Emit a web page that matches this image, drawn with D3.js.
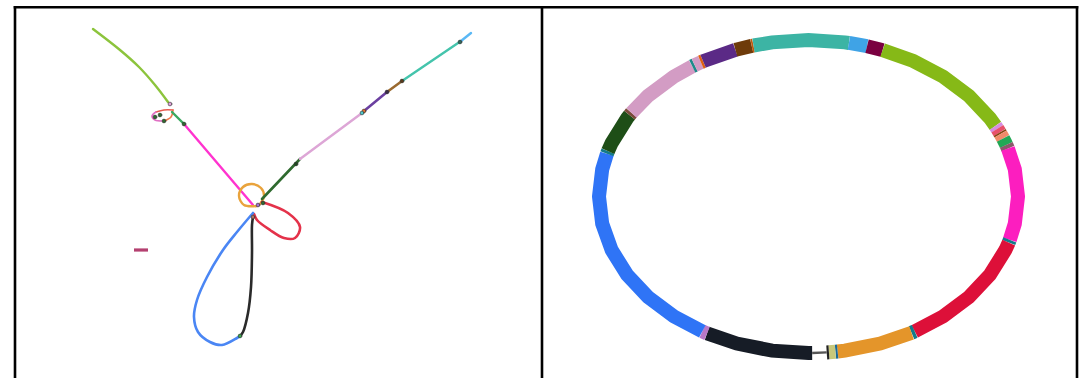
<!DOCTYPE html>
<html>
<head>
<meta charset="utf-8">
<script src="https://cdn.jsdelivr.net/npm/d3@7"></script>
<style>
  html, body { margin: 0; padding: 0; background: #fff; }
  svg { display: block; }
</style>
</head>
<body>
<svg id="chart" width="1091" height="378"></svg>
<script>
// ---- Left panel: assembly graph layout (layout units, relative to panel origin) ----
const graphEdgeIds    = ["e1", "e2a", "e2b", "e2c", "e3", "e4", "e5", "e6", "e7", "e8", "e9", "e10", "e11", "e12", "e13", "e14", "e15"];
const graphEdgeColors = ["#8cc43c", "#e85a50", "#e070c4", "#f0784c", "#3aa860", "#ff33cf", "#e9a33c", "#2f6a2f", "#dda6d6", "#6b3fa0", "#9a6a30", "#44c4ac", "#5ab8f5", "#e4324a", "#4a86f4", "#2a2a2a", "#b44070"];
const graphEdgePoints = [
  [[79,22],[106,43],[125,60],[141,78],[154,95]],
  [[159,103],[150,103],[142,105]],
  [[142,105],[138,109],[141,113],[150,114]],
  [[150,114],[157,110],[159,103]],
  [[158,105],[170,117]],
  [[170,117],[239,198]],
  [[243,199],[230,198],[225,189],[229,180],[238,177],[247,181],[250,189],[246,197],[243,199]],
  [[248,192],[286,152]],
  [[286,152],[348,106]],
  [[350,104],[373,85]],
  [[373,85],[388,74]],
  [[388,74],[447,34]],
  [[447,34],[457,26]],
  [[248,195],[274,206],[286,220],[281,231],[270,231],[256,223],[243,213],[240,207]],
  [[239,206],[223,225],[209,243],[193,270],[183,293],[180,310],[184,325],[196,335],[208,338],[223,331],[226,329]],
  [[226,329],[229,325],[234,306],[237,280],[238,246],[238,218],[239,210]],
  [[120,243],[134,243]]
];
const graphEdgeWidths = [2.4, 1.6, 1.6, 1.6, 2.4, 2.4, 2.4, 2.6, 2.4, 2.6, 2.6, 2.4, 2.4, 2.6, 2.6, 2.6, 3.2];

// graph nodes drawn as small dots
const graphNodePoints = [[170,117],[282,157],[350,104],[373,85],[388,74],[446,35],[226,329],[239,210],[244,198],[249,196],[156,97],[146,108],[141,110],[150,114],[348,106]];
const graphNodeColors = ["#2f6a2f", "#1f4a1f", "#e0702c", "#3a2a4a", "#5a3a1a", "#2f6a5a", "#3aa850", "#b07060", "#a070d0", "#2f6a2f", "#e0a0d8", "#2f6a2f", "#2f6a2f", "#2f6a2f", "#50c8c8"];

// ---- Right panel: circular assembly, segment lengths (kb) and colours ----
const ringSegments = ["black", "lilac", "blue", "teal1", "darkgreen", "brownstripe", "pink", "teal2", "pink2", "orange1", "purple", "brown", "rust", "teal", "lightblue", "maroon", "yellowgreen", "lilac2", "pinkred", "brown2", "salmon", "green", "mauve", "magenta", "teal3", "red", "teal4", "orange", "bluestripe", "khaki", "blackstripe", "link"];
const ringLengths  = [30, 1.5, 75.5, 1, 14.5, 1, 24, 0.8, 2, 0.7, 9.8, 4.7, 0.5, 26.4, 5.1, 4.5, 42.5, 1.2, 1.5, 0.6, 1.8, 2.5, 1.4, 34, 1, 42.5, 1, 21.5, 0.6, 1.8, 0.6, 4];
const ringColors   = ["#161c26", "#b878c8", "#2f74f6", "#137a8a", "#1e4e17", "#7a4a3a", "#d39cc4", "#1e8a8a", "#d39cc4", "#e06010", "#5b2a86", "#6e3b0a", "#c05a10", "#3cb4a4", "#3fa3e6", "#7a0040", "#86b917", "#d58ee0", "#e8506a", "#8b4513", "#f08a6a", "#22a855", "#8a5a6a", "#fc1ebf", "#137a8a", "#dd1039", "#137a8a", "#e4952a", "#1a6a9a", "#c8c87a", "#222222", "#555555"];

const svg = d3.select("#chart");

// panel frames
const frame = svg.append("g").attr("stroke", "#000").attr("stroke-width", 2.6).attr("fill", "none");
frame.append("line").attr("x1", 13.7).attr("x2", 1078.3).attr("y1", 7.3).attr("y2", 7.3);
frame.append("line").attr("x1", 15).attr("x2", 15).attr("y1", 6).attr("y2", 378);
frame.append("line").attr("x1", 542).attr("x2", 542).attr("y1", 6).attr("y2", 378);
frame.append("line").attr("x1", 1077).attr("x2", 1077).attr("y1", 6).attr("y2", 378);

// ---- left panel ----
const x = d3.scaleLinear().domain([0, 527]).range([14, 541]);
const y = d3.scaleLinear().domain([0, 371]).range([7, 378]);
const curve = d3.line().x(d => x(d[0])).y(d => y(d[1])).curve(d3.curveCatmullRom.alpha(0.5));

const left = svg.append("g").attr("fill", "none").attr("stroke-linecap", "round");
graphEdgeIds.forEach((id, i) => {
  left.append("path")
    .attr("d", curve(graphEdgePoints[i]))
    .attr("stroke", graphEdgeColors[i])
    .attr("stroke-width", graphEdgeWidths[i])
    .attr("stroke-linecap", id === "e15" ? "butt" : "round");
});
left.selectAll("circle.node")
  .data(graphNodePoints)
  .join("circle")
  .attr("class", "node")
  .attr("cx", d => x(d[0]))
  .attr("cy", d => y(d[1]))
  .attr("r", 1.9)
  .attr("fill", (d, i) => graphNodeColors[i])
  .attr("stroke", "#333")
  .attr("stroke-width", 0.6);

// ---- right panel ----
const cx = 808.5, cy = 196.5, rx = 209.5, ry = 156.5, ringWidth = 14;
const total = d3.sum(ringLengths);
const startDeg = 89;
const angle = d3.scaleLinear().domain([0, total]).range([startDeg, startDeg + 360]);
const toXY = deg => {
  const t = deg * Math.PI / 180;
  return [cx + rx * Math.cos(t), cy + ry * Math.sin(t)];
};
const poly = d3.line();
const ring = svg.append("g").attr("fill", "none");
let acc = 0;
ringSegments.forEach((name, i) => {
  const a0 = angle(acc), a1 = angle(acc + ringLengths[i]);
  acc += ringLengths[i];
  const degs = [a0];
  for (let k = Math.ceil(a0 / 10) * 10; k < a1; k += 10) if (k > a0) degs.push(k);
  degs.push(a1);
  const pts = degs.map(toXY);
  ring.append("path")
    .attr("d", poly(pts))
    .attr("stroke", ringColors[i])
    .attr("stroke-width", name === "link" ? 2.4 : ringWidth)
    .attr("stroke-linecap", "butt")
    .attr("stroke-linejoin", "miter");
});
</script>
</body>
</html>
